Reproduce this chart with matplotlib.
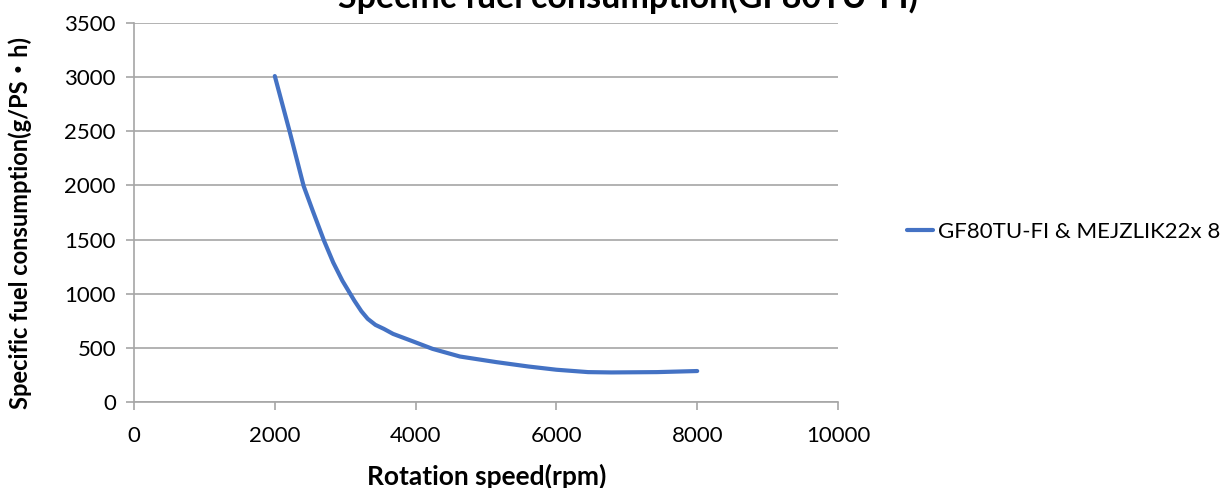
import matplotlib
matplotlib.use("Agg")
import matplotlib.pyplot as plt

rpm = [2000, 2210, 2410, 2540, 2700, 2830, 2960, 3130, 3230, 3320, 3430, 3550, 3680, 3970,
       4240, 4630, 5150, 5600, 6000, 6450, 6780, 7430, 8000]
sfc = [3010, 2500, 1994, 1764, 1488, 1288, 1120, 936, 838, 768, 712, 675, 629, 558,
       491, 420, 368, 328, 298, 276, 273, 276, 286]

series_label = "GF80TU-FI & MEJZLIK22x 8"
title = "Specific fuel consumption(GF80TU-FI)"
xlabel = "Rotation speed(rpm)"
ylabel = "Specific fuel consumption(g/PS\u30fbh)"
xticks = [0, 2000, 4000, 6000, 8000, 10000]
yticks = [0, 500, 1000, 1500, 2000, 2500, 3000, 3500]

FONT = ["Lato", "Noto Sans CJK JP", "DejaVu Sans"]
plt.rcParams["font.family"] = FONT

W, H = 1229, 488
fig = plt.figure(figsize=(W / 100, H / 100), dpi=100)
ax = fig.add_axes([134 / W, 1 - 402 / H, (838 - 134) / W, (402 - 23) / H])

line, = ax.plot(rpm, sfc, color="#4472C4", lw=3, solid_capstyle="round", solid_joinstyle="round")

ax.set_xlim(0, 10000)
ax.set_ylim(0, 3500)
ax.set_xticks(xticks)
ax.set_yticks(yticks)
ax.grid(axis="y", color="#a6a6a6", lw=1.2)
ax.set_axisbelow(True)
for s in ["top", "right"]:
    ax.spines[s].set_visible(False)
for s in ["left", "bottom"]:
    ax.spines[s].set_color("#a6a6a6")
    ax.spines[s].set_linewidth(1.2)
ax.tick_params(axis="both", colors="#a6a6a6", length=6, width=1.2, direction="out",
               labelcolor="black", labelsize=16)
ax.tick_params(axis="x", pad=11)
ax.tick_params(axis="y", pad=7)

fig.text(487 / W, 1 - 476 / H, xlabel, ha="center", va="center", fontsize=19, fontweight="bold")
fig.text(20 / W, 1 - 223 / H, ylabel, ha="center", va="center", rotation=90, fontsize=17,
         fontweight="bold")
fig.text(628 / W, 1 - 8 / H, title, ha="center", va="baseline", fontsize=24.5, fontweight="bold")

leg = fig.legend([line], [series_label], loc="center left", bbox_to_anchor=(907 / W, 1 - 232 / H),
                 frameon=False, fontsize=16, handlelength=1.15, handletextpad=0.25,
                 borderpad=0, borderaxespad=0)

fig.savefig("out.png", dpi=100)
